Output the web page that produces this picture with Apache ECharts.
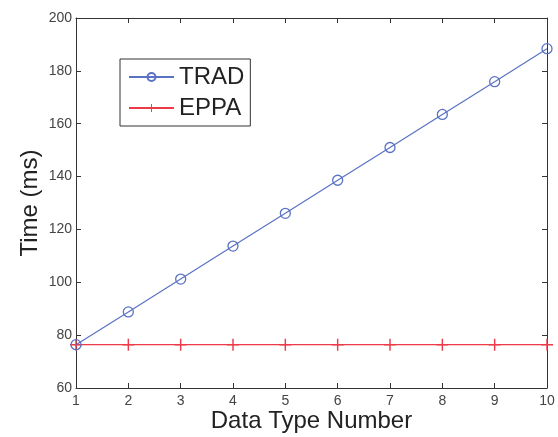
<!DOCTYPE html>
<html lang="en">

<head>
    <meta charset="UTF-8">
    <title>TRAD vs EPPA</title>
    <style>
        html,
        body {
            margin: 0;
            padding: 0;
            background: #fff;
        }
    </style>
</head>

<body>
    <div id="show" style="width: 558px; height: 437px;"></div>

    <script src="https://cdn.jsdelivr.net/npm/echarts@6/dist/echarts.min.js"></script>
    <script>
        // values
        var dataTypes = [1, 2, 3, 4, 5, 6, 7, 8, 9, 10];
        var tradTimes = [76.4, 88.8, 101.2, 113.7, 126.1, 138.6, 151.0, 163.5, 175.9, 188.4];
        var eppaTimes = [76.4, 76.4, 76.4, 76.4, 76.4, 76.4, 76.4, 76.4, 76.4, 76.4];

        var FONT = 'Liberation Sans, Arial, Helvetica, sans-serif';
        var BLUE = '#5a72c4';
        var RED = '#ee3a48';
        var AXIS = '#333';
        var PLUS = 'path://M-0.6,-5H0.6V-0.6H5V0.6H0.6V5H-0.6V0.6H-5V-0.6H-0.6Z';

        function pairs(ys) {
            return dataTypes.map(function (x, i) { return [x, ys[i]]; });
        }

        function boxAxis(extra) {
            var base = {
                type: 'value',
                axisLine: { show: true, lineStyle: { color: AXIS, width: 1 } },
                axisTick: { show: true, inside: true, length: 5, lineStyle: { color: AXIS } },
                axisLabel: { show: false },
                splitLine: { show: false }
            };
            return Object.assign(base, extra);
        }

        var chart = echarts.init(document.getElementById('show'), null, { renderer: 'canvas' });

        chart.setOption({
            animation: false,
            textStyle: { fontFamily: FONT },
            grid: { left: 76, right: 11, top: 18, bottom: 49, containLabel: false, outerBoundsMode: 'none' },
            legend: {
                left: 120,
                top: 59,
                orient: 'vertical',
                backgroundColor: '#fff',
                borderColor: '#333',
                borderWidth: 1,
                borderRadius: 0,
                padding: [6, 6, 6, 8],
                itemWidth: 45,
                itemHeight: 10,
                itemGap: 7,
                itemTextGap: 5,
                textStyle: { fontSize: 24, lineHeight: 24, color: '#222', fontFamily: FONT },
                data: ['TRAD', 'EPPA']
            },
            xAxis: [
                boxAxis({
                    min: 1, max: 10, interval: 1, position: 'bottom',
                    axisLabel: { show: true, fontSize: 14, color: '#444', margin: 6, fontFamily: FONT },
                    name: 'Data Type Number', nameLocation: 'middle', nameGap: 21,
                    nameMoveOverlap: false,
                    nameTextStyle: { fontSize: 24, color: '#222', fontFamily: FONT }
                }),
                boxAxis({ min: 1, max: 10, interval: 1, position: 'top' })
            ],
            yAxis: [
                boxAxis({
                    min: 60, max: 200, interval: 20, position: 'left',
                    axisLabel: { show: true, fontSize: 14, color: '#444', margin: 4, fontFamily: FONT },
                    name: 'Time (ms)', nameLocation: 'middle', nameGap: 34,
                    nameMoveOverlap: false,
                    nameTextStyle: { fontSize: 24, color: '#222', fontFamily: FONT }
                }),
                boxAxis({ min: 60, max: 200, interval: 20, position: 'right' })
            ],
            series: [
                {
                    name: 'TRAD',
                    type: 'line',
                    data: pairs(tradTimes),
                    symbol: 'circle',
                    symbolSize: 10,
                    color: BLUE,
                    lineStyle: { color: BLUE, width: 1.2 },
                    itemStyle: { color: 'rgba(255,255,255,0)', borderColor: BLUE, borderWidth: 1.3 },
                    z: 3
                },
                {
                    name: 'EPPA',
                    type: 'line',
                    data: pairs(eppaTimes),
                    symbol: PLUS,
                    symbolSize: 12,
                    color: RED,
                    lineStyle: { color: RED, width: 1.2 },
                    itemStyle: { color: RED, borderWidth: 0 },
                    z: 2
                }
            ]
        });
    </script>
</body>

</html>
